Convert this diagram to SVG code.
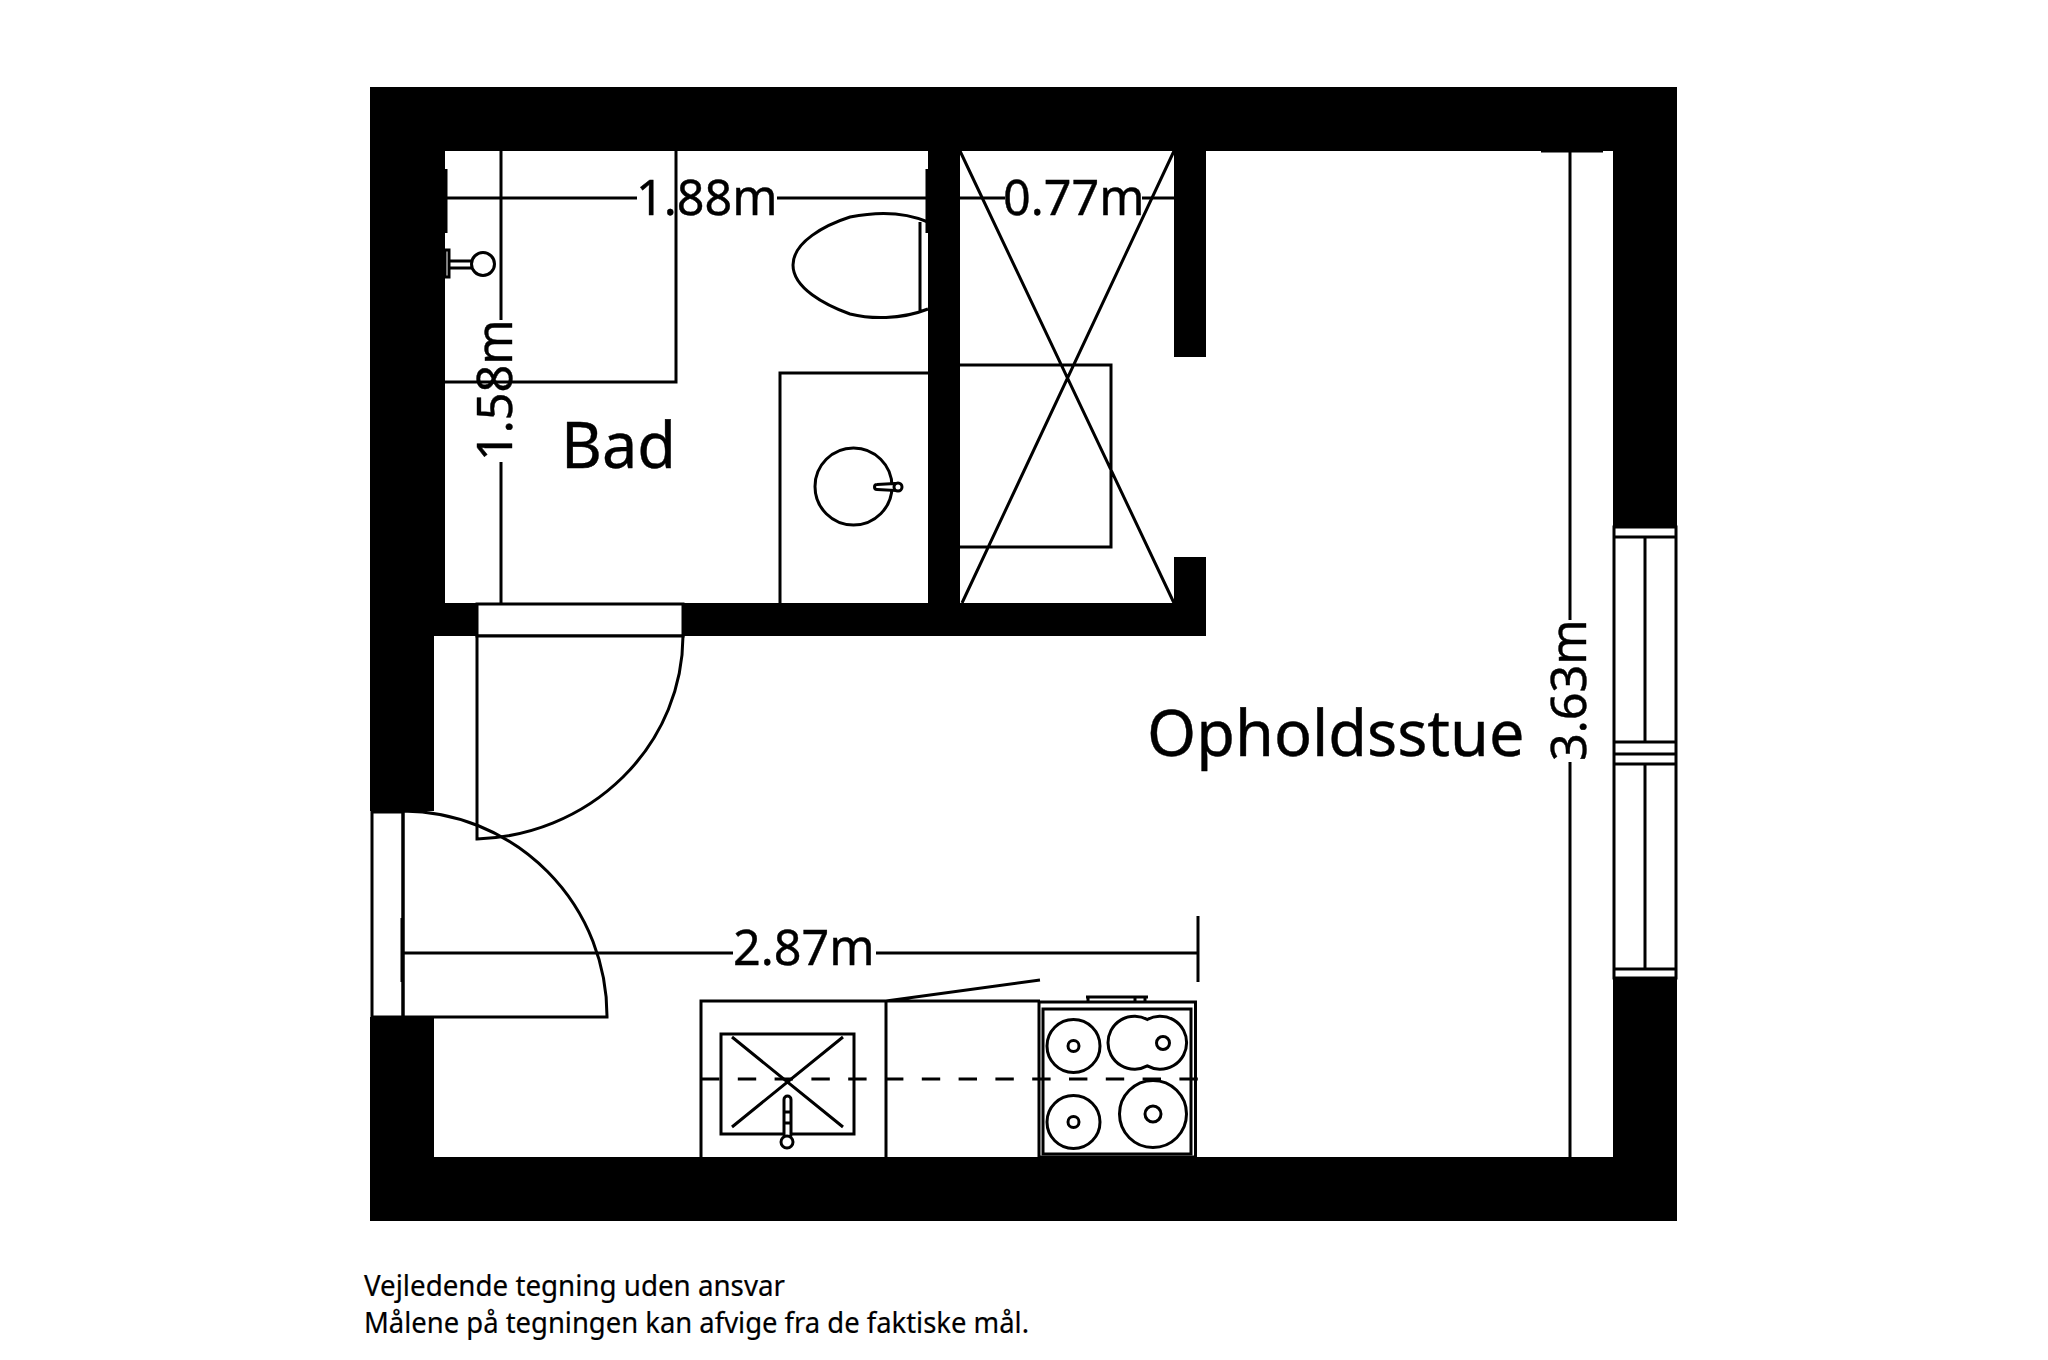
<svg xmlns="http://www.w3.org/2000/svg" width="2048" height="1360" viewBox="0 0 2048 1360">
<style>
.l{fill:none;stroke:#000;stroke-width:3}
.w{fill:#fff;stroke:#000;stroke-width:3}
.t{fill:#000;stroke:#000;stroke-width:.4;font-family:"Noto Sans","Open Sans",sans-serif}
.d{font-size:48.5px}
.f{font-size:29px;stroke-width:.2}
</style>
<rect width="2048" height="1360" fill="#fff"/>
<g id="walls">
<path fill="#000" d="M370 87H1677V527H1613V151H1206V636H636V636H434V811H370ZM445 151V603H928V151ZM960 151V603H1174V557H1206V357H1174V151ZM370 1017H434V1157H1613V978H1677V1221H370Z" fill-rule="evenodd"/>
</g>
<g id="bathroom">
<path class="l" d="M676 151V382H445"/>
<rect x="445" y="250" width="4" height="27" class="w"/>
<path class="l" d="M449 261H472M449 268H472"/>
<circle cx="483" cy="264" r="11.500" class="w"/>
<path class="l" d="M928 222C900 210 870 213 850 217C825 225 793 242 793 265C793 288 825 305 850 314C870 319 900 320 928 309M920 222V311"/>
<path class="l" d="M928 373H780V603"/>
<circle cx="853.500" cy="486.500" r="38.500" class="l"/>
<path class="w" d="M895 483.500L877 484.500A2.500 2.500 0 0 0 877 489.500L895 490.500Z"/>
<circle cx="898" cy="487" r="4" class="w"/>
</g>
<g id="closet">
<path class="l" d="M960 365H1111V547H960M960 151L1174 603M1174 151L962 603"/>
</g>
<g id="door-bath">
<rect x="477" y="604" width="206" height="32" class="w"/>
<path class="w" d="M683 636A213 204 0 0 1 477 839V636Z"/>
</g>
<g id="door-entry">
<rect x="372" y="812" width="31" height="205" class="w"/>
<path class="l" d="M403 811A205 205 0 0 1 607 1017H403Z"/>
</g>
<g id="window">
<rect x="1614" y="527" width="62" height="451" class="w"/>
<path class="l" d="M1614 537H1676M1614 742H1676M1614 754H1676M1614 764H1676M1614 969H1676M1645 537V742M1645 764V969"/>
</g>
<g id="kitchen">
<path class="l" d="M701 1157V1001H1040M886 1001V1157M886 1001L1040 980"/>
<rect x="721" y="1034" width="133" height="100" class="l"/>
<path class="l" d="M732 1037L843 1127M843 1037L732 1127"/>
<rect x="784" y="1096" width="7" height="42" rx="3.500" class="w"/>
<path class="l" d="M784 1112H791M784 1123H791"/>
<circle cx="787" cy="1142" r="6" class="w"/>
<rect x="1039" y="1002" width="156.500" height="155" class="l"/>
<rect x="1043" y="1009" width="148" height="145" class="l"/>
<path class="l" d="M1086 997H1148M1088 997V1002M1135 997V1002M1145 997V1002"/>
<circle cx="1073.500" cy="1046" r="26.500" class="l"/><circle cx="1073.500" cy="1046" r="5.500" class="l"/>
<circle cx="1073.500" cy="1122" r="26.500" class="l"/><circle cx="1073.500" cy="1122" r="5.500" class="l"/>
<circle cx="1153" cy="1114" r="33.500" class="l"/><circle cx="1153" cy="1114" r="8" class="l"/>
<path class="l" d="M1147.300 1019.500A26.500 26.500 0 1 0 1147.300 1065.900A26.500 26.500 0 1 0 1147.300 1019.500Z"/>
<circle cx="1163" cy="1043" r="6.500" class="l"/>
<path d="M701 1079H1198" fill="none" stroke="#000" stroke-width="3" stroke-dasharray="18.400 18.400"/>
</g>
<g id="connectors">
<path class="l" d="M446 169V233M447 198H637M777 198H926M927 169V233"/>
<path class="l" d="M501 151V320M501 462V603"/>
<path class="l" d="M960 198H1005M1142 198H1174"/>
<path class="l" d="M402 918V982M403 953H733M876 953H1198M1198 916V982"/>
<path class="l" d="M1570 151V620M1570 762V1157M1541 151H1603"/>
</g>
<g id="labels">
<text class="t d" x="636" y="215">1.88m</text>
<text class="t d" x="1003" y="215">0.77m</text>
<text class="t d" x="733" y="965">2.87m</text>
<text class="t d" transform="translate(512 461) rotate(-90)">1.58m</text>
<text class="t d" transform="translate(1586 761) rotate(-90)">3.63m</text>
<text class="t" x="561" y="468" font-size="63">Bad</text>
<text class="t" x="1147" y="756" font-size="63">Opholdsstue</text>
<text class="t f" x="364" y="1296" textLength="421" lengthAdjust="spacingAndGlyphs">Vejledende tegning uden ansvar</text>
<text class="t f" x="364" y="1333" textLength="665" lengthAdjust="spacingAndGlyphs">Målene på tegningen kan afvige fra de faktiske mål.</text>
</g>
</svg>
